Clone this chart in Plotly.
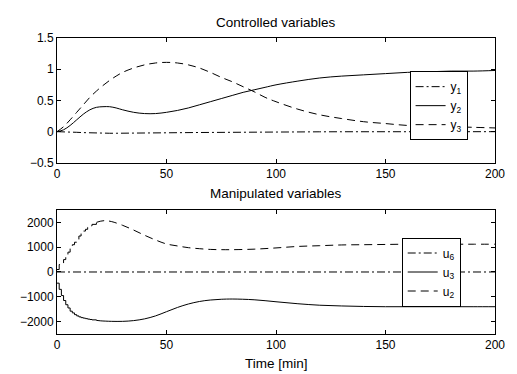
import plotly.graph_objects as go

# ---- data: controlled variables ----
t_top = [0, 3, 6, 9, 12, 15, 18, 21, 24, 27, 30, 35, 40, 45, 50, 55, 60, 65, 70, 75,
         80, 85, 90, 95, 100, 110, 120, 130, 140, 150, 160, 170, 180, 190, 200]
y1 = [0, 0, -0.005, -0.01, -0.015, -0.02, -0.02, -0.022, -0.025, -0.025, -0.025, -0.025,
      -0.025, -0.022, -0.02, -0.018, -0.015, -0.013, -0.012, -0.01, -0.01, -0.008, -0.007,
      -0.006, -0.005, -0.003, -0.002, -0.001, 0, 0, 0, 0, 0, 0, 0]
y2 = [0, 0.03, 0.1, 0.19, 0.28, 0.35, 0.39, 0.40, 0.40, 0.38, 0.35, 0.31, 0.29, 0.29,
      0.31, 0.34, 0.38, 0.43, 0.48, 0.53, 0.58, 0.63, 0.67, 0.71, 0.75, 0.81, 0.86, 0.89,
      0.91, 0.93, 0.95, 0.96, 0.97, 0.97, 0.98]
y3 = [0, 0.08, 0.19, 0.31, 0.43, 0.55, 0.65, 0.74, 0.82, 0.89, 0.95, 1.02, 1.07, 1.10,
      1.11, 1.10, 1.07, 1.02, 0.95, 0.87, 0.80, 0.72, 0.64, 0.55, 0.48, 0.36, 0.27, 0.21,
      0.16, 0.13, 0.10, 0.09, 0.08, 0.07, 0.06]

# ---- data: manipulated variables ----
t_bot = [0, 1, 2, 3, 4, 5, 6, 7, 8, 9, 10, 11, 12, 13, 14, 15, 16, 18, 20, 22, 25, 30,
         35, 40, 45, 50, 55, 60, 65, 70, 75, 80, 90, 100, 110, 120, 130, 140, 150, 160,
         170, 180, 190, 200]
u6 = [0] * len(t_bot)
u3 = [-450, -700, -950, -1150, -1320, -1450, -1580, -1650, -1720, -1770, -1810, -1840,
      -1860, -1880, -1900, -1915, -1930, -1950, -1970, -1980, -1990, -1990, -1960, -1890,
      -1770, -1600, -1430, -1290, -1190, -1130, -1100, -1090, -1120, -1200, -1280, -1340,
      -1370, -1390, -1400, -1400, -1400, -1400, -1400, -1400]
u2 = [100, 300, 350, 500, 700, 800, 950, 1100, 1200, 1300, 1450, 1550, 1650, 1720, 1800,
      1860, 1920, 2000, 2050, 2070, 2030, 1880, 1690, 1480, 1290, 1130, 1050, 980, 940,
      910, 900, 900, 920, 970, 1030, 1060, 1090, 1100, 1110, 1120, 1120, 1120, 1120, 1120]
STEP_END = 17  # early samples (t <= 16) drawn as visible stairs

x_ticks = [0, 50, 100, 150, 200]
top_ticks = [-0.5, 0, 0.5, 1, 1.5]
top_ticktext = ["\u22120.5", "0", "0.5", "1", "1.5"]
bot_ticks = [-2000, -1000, 0, 1000, 2000]
bot_ticktext = ["\u22122000", "\u22121000", "0", "1000", "2000"]

FONT = "Liberation Sans, Arial, Helvetica, sans-serif"
DASHDOT = "8px,3px,2px,3px"
DASHED = "8px,5px"

fig = go.Figure()
fig.add_trace(go.Scatter(x=t_top, y=y1, mode="lines", name="y<sub>1</sub>",
                         line=dict(color="black", width=1, dash=DASHDOT),
                         xaxis="x", yaxis="y", legend="legend"))
fig.add_trace(go.Scatter(x=t_top, y=y2, mode="lines", name="y<sub>2</sub>",
                         line=dict(color="black", width=1, shape="spline"),
                         xaxis="x", yaxis="y", legend="legend"))
fig.add_trace(go.Scatter(x=t_top, y=y3, mode="lines", name="y<sub>3</sub>",
                         line=dict(color="black", width=1, dash=DASHED, shape="spline"),
                         xaxis="x", yaxis="y", legend="legend"))

fig.add_trace(go.Scatter(x=t_bot, y=u6, mode="lines", name="u<sub>6</sub>",
                         line=dict(color="black", width=1, dash=DASHDOT),
                         xaxis="x2", yaxis="y2", legend="legend2"))
fig.add_trace(go.Scatter(x=t_bot[:STEP_END + 1], y=u3[:STEP_END + 1], mode="lines",
                         name="u<sub>3</sub>", legendgroup="u3",
                         line=dict(color="black", width=1, shape="hv"),
                         xaxis="x2", yaxis="y2", legend="legend2"))
fig.add_trace(go.Scatter(x=t_bot[STEP_END:], y=u3[STEP_END:], mode="lines",
                         name="u<sub>3</sub>", legendgroup="u3", showlegend=False,
                         line=dict(color="black", width=1, shape="spline"),
                         xaxis="x2", yaxis="y2", legend="legend2"))
fig.add_trace(go.Scatter(x=t_bot[:STEP_END + 1], y=u2[:STEP_END + 1], mode="lines",
                         name="u<sub>2</sub>", legendgroup="u2",
                         line=dict(color="black", width=1, dash=DASHED, shape="hv"),
                         xaxis="x2", yaxis="y2", legend="legend2"))
fig.add_trace(go.Scatter(x=t_bot[STEP_END:], y=u2[STEP_END:], mode="lines",
                         name="u<sub>2</sub>", legendgroup="u2", showlegend=False,
                         line=dict(color="black", width=1, dash=DASHED, shape="spline"),
                         xaxis="x2", yaxis="y2", legend="legend2"))

axis_common = dict(showline=True, linecolor="black", linewidth=1, mirror="ticks",
                   ticks="inside", ticklen=4, tickcolor="black", showgrid=False,
                   zeroline=False, tickfont=dict(family=FONT, size=12, color="black"))

legend_common = dict(bgcolor="white", bordercolor="black", borderwidth=1,
                     font=dict(family=FONT, size=12, color="black"),
                     xanchor="left", yanchor="top", traceorder="normal",
                     itemwidth=30, tracegroupgap=0)

fig.update_layout(
    width=509, height=366,
    margin=dict(l=49, r=13, t=30, b=40),
    paper_bgcolor="white", plot_bgcolor="white",
    xaxis=dict(domain=[0, 1], range=[0, 200], tickvals=x_ticks, anchor="y", **axis_common),
    yaxis=dict(domain=[0.578, 1], range=[-0.5, 1.5], tickvals=top_ticks,
               ticktext=top_ticktext, anchor="x", **axis_common),
    xaxis2=dict(domain=[0, 1], range=[0, 200], tickvals=x_ticks, anchor="y2", **axis_common),
    yaxis2=dict(domain=[0, 0.419], range=[-2500, 2500], tickvals=bot_ticks,
                ticktext=bot_ticktext, anchor="x2", **axis_common),
    legend=dict(x=0.805, y=0.888, **legend_common),
    legend2=dict(x=0.787, y=0.326, **legend_common),
    showlegend=True,
    annotations=[
        dict(text="Controlled variables", x=0.5, y=1.054, xref="paper", yref="paper",
             showarrow=False, xanchor="center", yanchor="middle",
             font=dict(family=FONT, size=13.5, color="black")),
        dict(text="Manipulated variables", x=0.5, y=0.473, xref="paper", yref="paper",
             showarrow=False, xanchor="center", yanchor="middle",
             font=dict(family=FONT, size=13.5, color="black")),
        dict(text="Time [min]", x=0.5, y=-0.098, xref="paper", yref="paper",
             showarrow=False, xanchor="center", yanchor="middle",
             font=dict(family=FONT, size=13.5, color="black")),
    ],
)

fig.write_html("out.html")
